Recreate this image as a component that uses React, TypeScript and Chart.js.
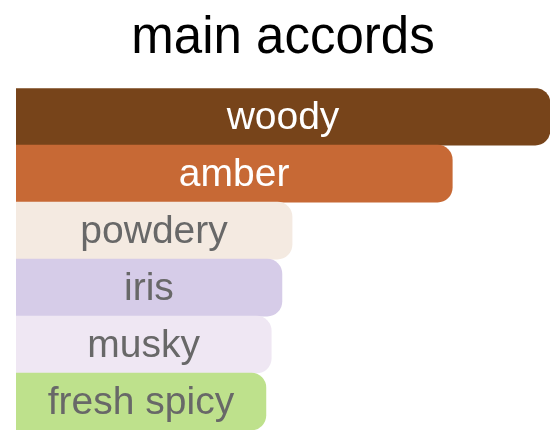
import React, { useEffect, useRef } from "react";
import { Chart, registerables } from "chart.js";

Chart.register(...registerables);

const categories = ["woody", "amber", "powdery", "iris", "musky", "fresh spicy"];
const values = [100, 81.7, 51.7, 49.8, 47.8, 46.8];
const barColors = ["#77441a", "#c76935", "#f4eae1", "#d6cce8", "#efe7f3", "#bee18c"];
const labelColors = ["#ffffff", "#ffffff", "#686868", "#686868", "#686868", "#686868"];
const titleText = "main accords";

const FONT = "'Liberation Sans', Arial, Helvetica, sans-serif";

const labelPlugin = {
  id: "barLabels",
  afterDatasetsDraw(chart: any) {
    const ctx = chart.ctx;
    const meta = chart.getDatasetMeta(0);
    ctx.save();
    ctx.font = `39px ${FONT}`;
    ctx.textAlign = "center";
    ctx.textBaseline = "middle";
    meta.data.forEach((bar: any, i: number) => {
      const props = bar.getProps(["x", "y", "base"], true);
      const cx = (props.x + props.base) / 2;
      ctx.fillStyle = labelColors[i];
      ctx.fillText(categories[i], cx, props.y + 2);
    });
    ctx.restore();
  },
};

export default function App() {
  const ref = useRef<HTMLCanvasElement | null>(null);
  useEffect(() => {
    if (!ref.current) return;
    const chart = new Chart(ref.current, {
      type: "bar",
      data: {
        labels: categories,
        datasets: [
          {
            data: values,
            backgroundColor: barColors,
            borderWidth: 0,
            borderSkipped: false,
            borderRadius: { topLeft: 0, bottomLeft: 0, topRight: 15, bottomRight: 15 },
            barPercentage: 1,
            categoryPercentage: 1,
          },
        ],
      },
      options: {
        indexAxis: "y",
        responsive: false,
        animation: false,
        layout: { padding: { left: 16, right: 8, top: 0, bottom: 17 } },
        scales: {
          x: { display: false, min: 0, max: 100 },
          y: { display: false },
        },
        plugins: {
          legend: { display: false },
          tooltip: { enabled: false },
          title: {
            display: true,
            text: titleText,
            color: "#000000",
            font: { family: FONT, size: 51, weight: "normal" },
            padding: { top: 8, bottom: 19 },
          },
        },
      },
      plugins: [labelPlugin],
    });
    return () => chart.destroy();
  }, []);
  return (
    <div style={{ position: "fixed", left: 0, top: 0, width: 558, height: 447, background: "#ffffff" }}>
      <canvas ref={ref} width={558} height={447} style={{ display: "block", width: 558, height: 447 }} />
    </div>
  );
}
